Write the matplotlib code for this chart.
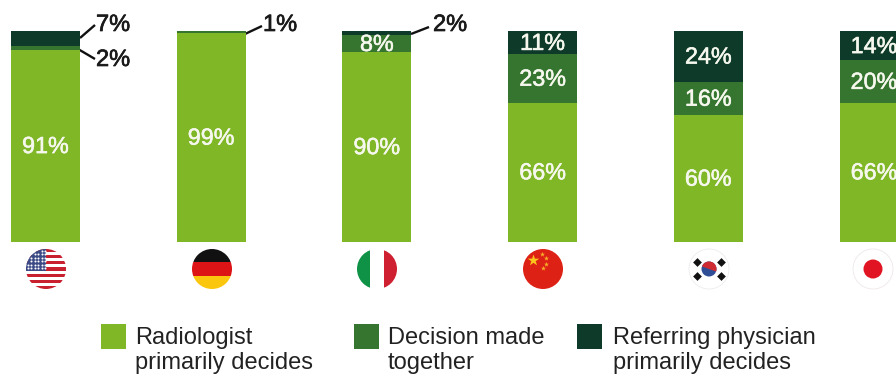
import matplotlib
matplotlib.use("Agg")
import matplotlib.pyplot as plt
import matplotlib.patheffects as pe
from matplotlib.patches import Circle, Rectangle, Wedge
import numpy as np

plt.rcParams['font.family'] = ['Liberation Sans', 'DejaVu Sans']

countries = ["United States", "Germany", "Italy", "China", "South Korea", "Japan"]
radiologist = [91, 99, 90, 66, 60, 66]
together = [2, 1, 8, 23, 16, 20]
referring = [7, 0, 2, 11, 24, 14]

legend_labels = ["Radiologist\nprimarily decides", "Decision made\ntogether", "Referring physician\nprimarily decides"]
LIGHT, MID, DARK = "#7fb727", "#35752f", "#0e3a2a"
colors = [LIGHT, MID, DARK]

W, H = 896, 376
fig = plt.figure(figsize=(W / 100, H / 100), dpi=100, facecolor="white")

# Pixel-space layer for flags, legend and leader lines
px = fig.add_axes([0, 0, 1, 1], zorder=1)
px.set_xlim(0, W)
px.set_ylim(H, 0)
px.axis("off")

# Chart axes: 0-100 % over the bar height, one x unit per country
top, bottom = 31.0, 241.5
spacing, first = 165.7, 45.5
ax = fig.add_axes([0, 1 - bottom / H, 1, (bottom - top) / H], zorder=2)
ax.patch.set_alpha(0)
ax.set_xlim(-first / spacing, (W - first) / spacing)
ax.set_ylim(0, 100)
ax.axis("off")

x = np.arange(len(countries))
width = 69 / spacing
base = np.zeros(len(x))
for vals, c in zip([radiologist, together, referring], colors):
    ax.bar(x, vals, width, bottom=base, color=c, linewidth=0)
    for xi, b, v in zip(x, base, vals):
        if v >= 8:
            t = ax.text(xi, b + v / 2 - 0.4, f"{v}%", ha="center", va="center",
                        color="#f6f8ee", fontsize=16.8, clip_on=True)
            t.set_path_effects([pe.withStroke(linewidth=0.4, foreground="#f6f8ee")])
    base += np.array(vals)

# Outside labels for thin segments
outside = [
    ("7%", 96, 25, (80, 38), (95, 25)),
    ("2%", 96, 60, (78, 49), (95, 59)),
    ("1%", 263, 25, (245, 34), (262, 26)),
    ("2%", 433, 25, (411, 34), (429, 27)),
]
for label, tx, ty, p0, p1 in outside:
    px.plot([p0[0], p1[0]], [p0[1], p1[1]], color="#111111", lw=1.7, solid_capstyle="butt")
    t = px.text(tx, ty, label, ha="left", va="center", color="#1a1a1a", fontsize=17)
    t.set_path_effects([pe.withStroke(linewidth=0.5, foreground="#1a1a1a")])


def flag_disc(cx, cy, r=20):
    return Circle((cx, cy), r, transform=px.transData)


def clipped_rect(x0, y0, w, h, color, clip):
    rect = Rectangle((x0, y0), w, h, facecolor=color, linewidth=0)
    px.add_patch(rect)
    rect.set_clip_path(clip)


fy = 269
fx = [46, 212, 377, 543, 709, 873]

# United States
c = flag_disc(fx[0], fy)
clipped_rect(fx[0] - 20, fy - 20, 40, 40, "white", c)
for s in range(0, 13, 2):
    clipped_rect(fx[0] - 20, fy - 20 + s * 40 / 13, 40, 40 / 13, "#c8202f", c)
clipped_rect(fx[0] - 20, fy - 20, 20, 21.5, "#3c4a86", c)
sx, sy = np.meshgrid(np.arange(fx[0] - 18, fx[0], 3.4), np.arange(fy - 18, fy + 1, 3.4))
keep = (sx - fx[0]) ** 2 + (sy - fy) ** 2 < 19 ** 2
px.scatter(sx[keep], sy[keep], s=2.2, color="white", linewidths=0, zorder=3)

# Germany
c = flag_disc(fx[1], fy)
for i, col in enumerate(["#111111", "#dc1415", "#fbc70e"]):
    clipped_rect(fx[1] - 20, fy - 20 + i * 13.34, 40, 13.34, col, c)

# Italy
c = flag_disc(fx[2], fy)
for i, col in enumerate(["#0f9146", "white", "#cf2032"]):
    clipped_rect(fx[2] - 20 + i * 13.34, fy - 20, 13.34, 40, col, c)

# China
px.add_patch(Circle((fx[3], fy), 20, facecolor="#de2115", linewidth=0))
px.scatter([fx[3] - 10], [fy - 9], marker="*", s=75, color="#fbc61c", linewidths=0, zorder=3)
px.scatter([fx[3] - 1, fx[3] + 3, fx[3] + 3, fx[3]], [fy - 15, fy - 11, fy - 5, fy - 1],
           marker="*", s=14, color="#f5b22a", linewidths=0, zorder=3)

# South Korea
px.add_patch(Circle((fx[4], fy), 20, facecolor="white", edgecolor="#ececf0", linewidth=0.6))
px.add_patch(Circle((fx[4], fy), 7.5, facecolor="#2f4e96", linewidth=0))
px.add_patch(Wedge((fx[4], fy), 7.5, 200, 20, facecolor="#cf2b33", linewidth=0))
for dx, dy in [(-12, -7), (12, -7), (-12, 7), (12, 7)]:
    px.scatter([fx[4] + dx], [fy + dy], marker=(4, 0, 0), s=40, color="#111111", linewidths=0, zorder=3)

# Japan
px.add_patch(Circle((fx[5], fy), 20, facecolor="white", edgecolor="#efe8e8", linewidth=0.6))
px.add_patch(Circle((fx[5], fy), 9.5, facecolor="#e01422", linewidth=0))

# Legend
for sq_x, tx, label, col in zip([101, 354, 577], [135, 388, 613], legend_labels, colors):
    px.add_patch(Rectangle((sq_x, 324), 25, 25, facecolor=col, linewidth=0))
    l1, l2 = label.split("\n")
    px.text(tx, 338, l1, ha="left", va="center", color="#222222", fontsize=17)
    px.text(tx, 363.5, l2, ha="left", va="center", color="#222222", fontsize=17)

fig.savefig("out.png", dpi=100)
